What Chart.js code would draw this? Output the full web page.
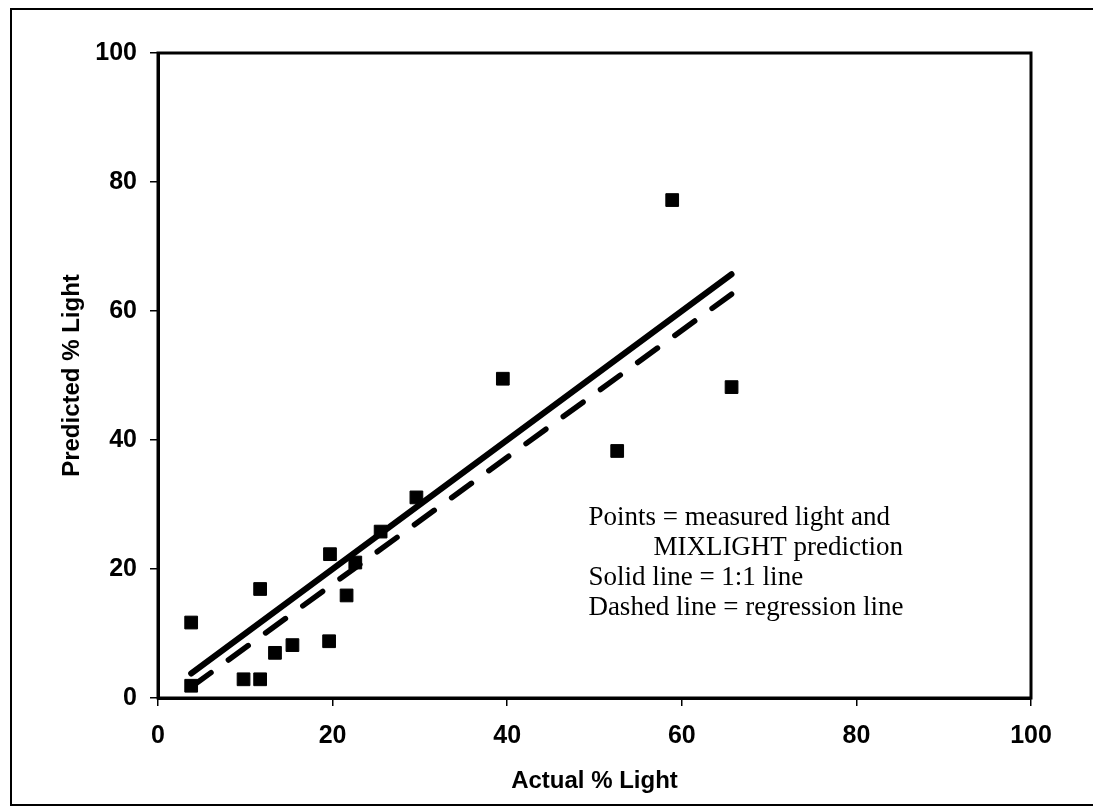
<!DOCTYPE html>
<html lang="en">
<head>
  <meta charset="UTF-8">
  <title>Predicted vs Actual % Light</title>
  <script src="https://cdn.jsdelivr.net/npm/chart.js"></script>
  <style>
    body {
      margin: 0;
      background: #fff;
    }
    .chart-container {
      width: 1093px;
      height: 806px;
      position: relative;
    }
  </style>
</head>
<body>
  <div class="chart-container">
    <canvas id="lightChart"></canvas>
  </div>

  <script>
    // Measured vs MIXLIGHT-predicted light (%)
    const actualLight = [3.8, 3.8, 9.8, 11.7, 11.7, 13.4, 15.4, 19.6, 19.7, 21.6, 22.6, 25.5, 29.6, 39.5, 52.6, 58.9, 65.7];
    const predictedLight = [11.7, 1.9, 2.9, 2.9, 16.9, 7.0, 8.2, 8.8, 22.3, 15.9, 21.0, 25.8, 31.1, 49.5, 38.3, 77.2, 48.2];

    // 1:1 line and fitted regression line end points
    const lineX = [3.8, 65.7];
    const oneToOneY = [3.8, 65.7];
    const regressionY = [1.7, 62.6];

    const axisTicks = [0, 20, 40, 60, 80, 100];

    const noteLines = [
      'Points = measured light and',
      'MIXLIGHT prediction',
      'Solid line = 1:1 line',
      'Dashed line = regression line'
    ];

    const toPoints = (xs, ys) => xs.map((x, i) => ({ x: x, y: ys[i] }));

    // Outer frame, plot border and the text note
    const framePlugin = {
      id: 'framePlugin',
      beforeDraw(chart) {
        const ctx = chart.ctx;
        ctx.save();
        ctx.strokeStyle = '#000';
        ctx.lineWidth = 2;
        ctx.strokeRect(11, 9, 1100, 796);
        ctx.restore();
      },
      beforeDatasetsDraw(chart) {
        const { ctx, chartArea } = chart;
        ctx.save();
        ctx.strokeStyle = '#000';
        ctx.lineWidth = 3;
        ctx.strokeRect(chartArea.left, chartArea.top, chartArea.right - chartArea.left, chartArea.bottom - chartArea.top);
        ctx.restore();
      },
      afterDraw(chart) {
        const ctx = chart.ctx;
        const xs = chart.scales.x;
        const ys = chart.scales.y;
        const left = xs.getPixelForValue(49.3);
        const top = ys.getPixelForValue(26.8);
        ctx.save();
        ctx.fillStyle = '#000';
        ctx.font = '27px "Liberation Serif", "Times New Roman", serif';
        ctx.textAlign = 'left';
        ctx.textBaseline = 'alphabetic';
        noteLines.forEach((line, i) => {
          const indent = i === 1 ? 65 : 0;
          ctx.fillText(line, left + indent, top + i * 30);
        });
        ctx.restore();
      }
    };

    const tickFont = { family: '"Liberation Sans", Arial, sans-serif', size: 25, weight: 'bold' };
    const titleFont = { family: '"Liberation Sans", Arial, sans-serif', size: 24, weight: 'bold' };

    const config = {
      type: 'scatter',
      data: {
        datasets: [
          {
            label: 'Points',
            data: toPoints(actualLight, predictedLight),
            pointStyle: 'rect',
            pointRadius: 9,
            pointBorderWidth: 1,
            backgroundColor: '#000',
            borderColor: '#000',
            showLine: false
          },
          {
            label: '1:1 line',
            data: toPoints(lineX, oneToOneY),
            showLine: true,
            borderColor: '#000',
            borderWidth: 6,
            borderCapStyle: 'round',
            pointRadius: 0
          },
          {
            label: 'Regression line',
            data: toPoints(lineX, regressionY),
            showLine: true,
            borderColor: '#000',
            borderWidth: 5.5,
            borderDash: [24.5, 21.5],
            borderCapStyle: 'round',
            pointRadius: 0
          }
        ]
      },
      options: {
        responsive: true,
        maintainAspectRatio: false,
        animation: false,
        layout: {
          padding: { left: 0, right: 62, top: 53, bottom: 0 }
        },
        scales: {
          x: {
            type: 'linear',
            min: 0,
            max: 100,
            afterBuildTicks: (scale) => { scale.ticks = axisTicks.map(v => ({ value: v })); },
            afterFit: (scale) => { scale.height = 108; },
            grid: { drawOnChartArea: false, tickLength: 8, color: '#000', lineWidth: 1.5 },
            border: { color: '#000', width: 3 },
            ticks: { color: '#000', font: tickFont, padding: 15, maxRotation: 0 },
            title: {
              display: true,
              text: 'Actual % Light',
              color: '#000',
              font: titleFont,
              padding: { top: 0, bottom: 10 }
            }
          },
          y: {
            type: 'linear',
            min: 0,
            max: 100,
            afterBuildTicks: (scale) => { scale.ticks = axisTicks.map(v => ({ value: v })); },
            afterFit: (scale) => { scale.width = 158; },
            grid: { drawOnChartArea: false, tickLength: 8, color: '#000', lineWidth: 1.5 },
            border: { color: '#000', width: 3 },
            ticks: { color: '#000', font: tickFont, padding: 13 },
            title: {
              display: true,
              text: 'Predicted % Light',
              color: '#000',
              font: titleFont,
              padding: { top: 58, bottom: 0 }
            }
          }
        },
        plugins: {
          legend: { display: false },
          tooltip: { enabled: false }
        }
      },
      plugins: [framePlugin]
    };

    const ctx = document.getElementById('lightChart').getContext('2d');
    const chart = new Chart(ctx, config);
  </script>
</body>
</html>
